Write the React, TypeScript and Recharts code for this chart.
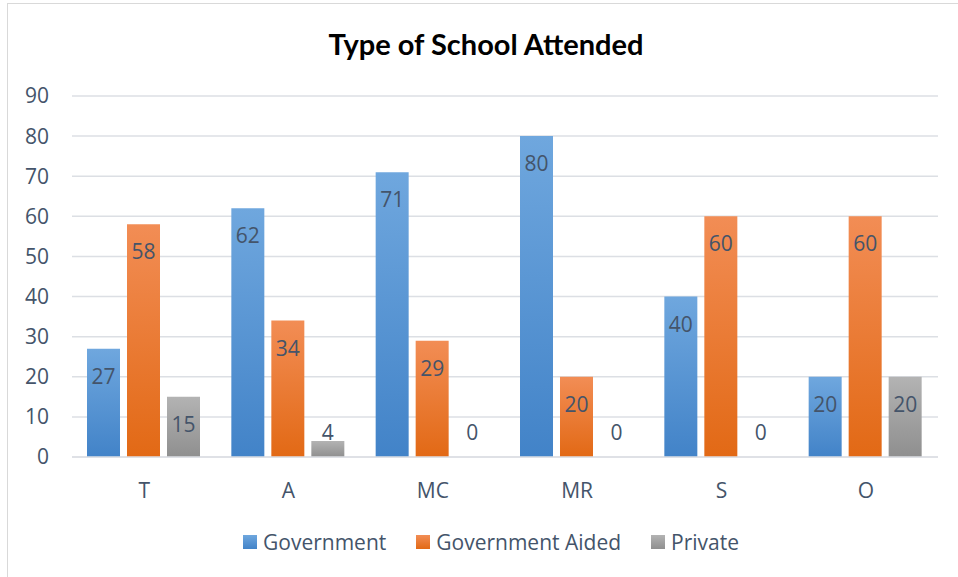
import React from "react";
import {
  BarChart,
  Bar,
  XAxis,
  YAxis,
  CartesianGrid,
  Legend,
  LabelList,
} from "recharts";

const categories = ["T", "A", "MC", "MR", "S", "O"];
const government = [27, 62, 71, 80, 40, 20];
const governmentAided = [58, 34, 29, 20, 60, 60];
const privateSchool = [15, 4, 0, 0, 0, 20];
const yTicks = [0, 10, 20, 30, 40, 50, 60, 70, 80, 90];

const seriesInfo = [
  { key: "government", name: "Government", top: "#6fa7de", bottom: "#4283c8" },
  { key: "aided", name: "Government Aided", top: "#f28d55", bottom: "#e26915" },
  { key: "private", name: "Private", top: "#b3b3b3", bottom: "#8f8f8f" },
];

const chartData = categories.map((cat, i) => ({
  cat,
  government: government[i],
  aided: governmentAided[i],
  private: privateSchool[i],
}));

const TEXT = "#44546a";
const FONT = "'Open Sans', 'DejaVu Sans', sans-serif";

// Excel-like "inside end" label; short bars push the label up above the bar
function BarLabel(props: any) {
  const { x, y, width, height, value } = props;
  const base = y + height;
  const cy = Math.min(y + 27, base - 25);
  return (
    <text
      x={x + width / 2}
      y={cy}
      textAnchor="middle"
      dominantBaseline="central"
      fill={TEXT}
      fontSize={21}
      fontFamily={FONT}
    >
      {value}
    </text>
  );
}

function LegendBox() {
  return (
    <div
      style={{
        display: "flex",
        justifyContent: "center",
        alignItems: "center",
        gap: 30,
        height: 30,
        paddingLeft: 24,
        fontFamily: FONT,
        fontSize: 21,
        color: TEXT,
      }}
    >
      {seriesInfo.map((s) => (
        <div key={s.key} style={{ display: "flex", alignItems: "center", gap: 6 }}>
          <span
            style={{
              width: 14,
              height: 14,
              display: "inline-block",
              background: `linear-gradient(${s.top}, ${s.bottom})`,
            }}
          />
          <span>{s.name}</span>
        </div>
      ))}
    </div>
  );
}

export default function App() {
  return (
    <div
      style={{
        position: "fixed",
        left: 0,
        top: 0,
        width: 958,
        height: 577,
        overflow: "hidden",
        background: "#fff",
      }}
    >
      <div
        style={{
          position: "absolute",
          left: 7,
          top: 3,
          width: 1000,
          height: 1000,
          border: "1px solid #d9d9d9",
        }}
      />
      <div
        style={{
          position: "absolute",
          left: 14,
          width: 944,
          top: 26,
          textAlign: "center",
          fontFamily: "Lato, 'Open Sans', sans-serif",
          fontWeight: 700,
          fontSize: 29,
          color: "#000",
        }}
      >
        Type of School Attended
      </div>
      <div style={{ position: "absolute", left: 0, top: 0 }}>
        <BarChart
          width={958}
          height={577}
          data={chartData}
          margin={{ top: 96, right: 20, bottom: 20, left: 0 }}
          barCategoryGap={15}
          barGap={7}
        >
          <defs>
            {seriesInfo.map((s) => (
              <linearGradient key={s.key} id={`grad-${s.key}`} x1="0" y1="0" x2="0" y2="1">
                <stop offset="0%" stopColor={s.top} />
                <stop offset="100%" stopColor={s.bottom} />
              </linearGradient>
            ))}
          </defs>
          <CartesianGrid vertical={false} stroke="#dcdfe4" strokeWidth={1.5} />
          <XAxis
            dataKey="cat"
            height={70}
            axisLine={{ stroke: "#dcdfe4", strokeWidth: 1.5 }}
            tickLine={false}
            tickSize={0}
            tickMargin={26}
            tick={{ fill: TEXT, fontSize: 21, fontFamily: FONT }}
          />
          <YAxis
            width={72}
            domain={[0, 90]}
            ticks={yTicks}
            axisLine={false}
            tickLine={false}
            tickSize={0}
            tickMargin={23}
            tick={{ fill: TEXT, fontSize: 21, fontFamily: FONT }}
          />
          <Legend
            verticalAlign="bottom"
            content={() => <LegendBox />}
            wrapperStyle={{ left: 0, width: 958 }}
          />
          {seriesInfo.map((s) => (
            <Bar
              key={s.key}
              dataKey={s.key}
              name={s.name}
              fill={`url(#grad-${s.key})`}
              minPointSize={0.01}
              isAnimationActive={false}
            >
              <LabelList dataKey={s.key} content={BarLabel} />
            </Bar>
          ))}
        </BarChart>
      </div>
    </div>
  );
}
